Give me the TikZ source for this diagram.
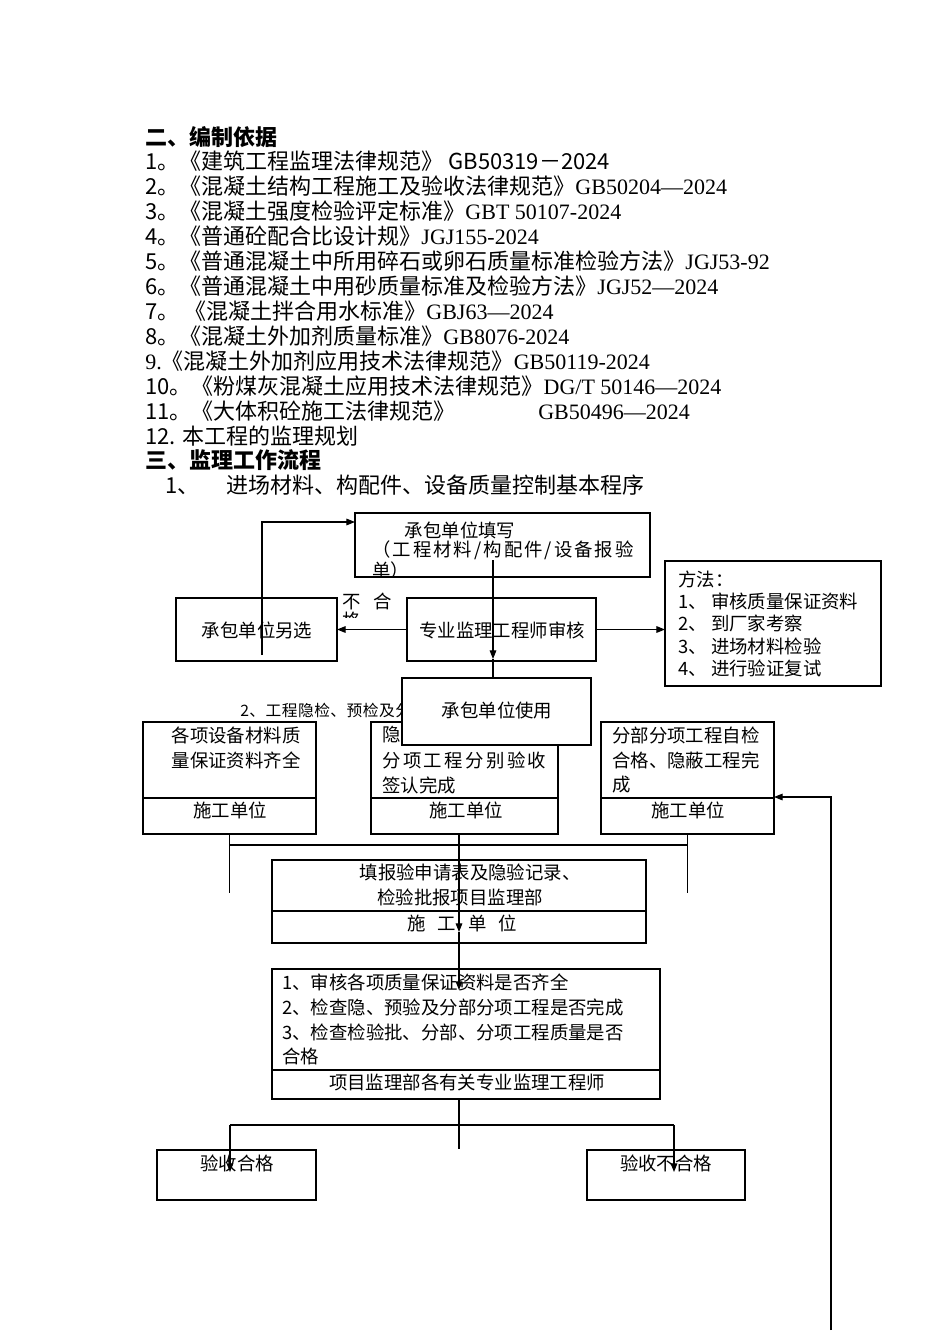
\documentclass[tikz,border=0pt]{standalone}
\usepackage{fontspec}
\setmainfont{Noto Sans CJK SC}
\newfontfamily\tnr{Liberation Serif}
\usepackage{tikz}
\usetikzlibrary{arrows.meta, positioning}
\newcommand{\lst}{\fontsize{16.5pt}{19pt}\selectfont}
\newcommand{\flw}{\fontsize{13.8pt}{16pt}\selectfont}
\newcommand{\sml}{\fontsize{11.8pt}{13pt}\selectfont}

\begin{document}
\begin{tikzpicture}[x=0.75pt, y=-0.75pt,
    box/.style={draw, line width=0.8pt, inner sep=0pt, outer sep=0pt},
    sz/.style 2 args={minimum width=#1*0.75pt, minimum height=#2*0.75pt},
    txt/.style={inner sep=0pt, anchor=west},
    ctr/.style={inner sep=0pt},
    ln/.style={line width=0.8pt},
    arr/.style={-{Triangle[length=6.5pt,width=5pt]}, line width=0.8pt}]
    \fill[white] (0,0) rectangle (950,1344);
    \useasboundingbox (0,0) rectangle (950,1344);
    % Basis
    \node[txt, font=\lst\bfseries] (h1) at (145,137) {二、编制依据};
    \node[txt, font=\lst] (l1) at (145,161) {1。《建筑工程监理法律规范》 GB50319－2024};
    \node[txt, font=\lst] (l2) at (145,186) {2。《混凝土结构工程施工及验收法律规范》{\tnr GB50204—2024}};
    \node[txt, font=\lst] (l3) at (145,211) {3。《混凝土强度检验评定标准》{\tnr GBT 50107-2024}};
    \node[txt, font=\lst] (l4) at (145,236) {4。《普通砼配合比设计规》{\tnr JGJ155-2024}};
    \node[txt, font=\lst] (l5) at (145,261) {5。《普通混凝土中所用碎石或卵石质量标准检验方法》{\tnr JGJ53-92}};
    \node[txt, font=\lst] (l6) at (145,286) {6。《普通混凝土中用砂质量标准及检验方法》{\tnr JGJ52—2024}};
    \node[txt, font=\lst] (l7) at (145,311) {7。 《混凝土拌合用水标准》{\tnr GBJ63—2024}};
    \node[txt, font=\lst] (l8) at (145,336) {8。《混凝土外加剂质量标准》{\tnr GB8076-2024}};
    \node[txt, font=\lst] (l9) at (145,361) {{\tnr 9.}《混凝土外加剂应用技术法律规范》{\tnr GB50119-2024}};
    \node[txt, font=\lst] (l10) at (145,386) {10。《粉煤灰混凝土应用技术法律规范》{\tnr DG/T 50146—2024}};
    \node[txt, font=\lst] (l11) at (145,411) {11。《大体积砼施工法律规范》\hspace{62pt}{\tnr GB50496—2024}};
    \node[txt, font=\lst] (l12) at (145,436) {12. 本工程的监理规划};
    % Workflow
    \node[txt, font=\lst\bfseries] (h2) at (145,460) {三、监理工作流程};
    \node[txt, font=\lst] (h3) at (165,485) {1、\hspace{20pt}进场材料、构配件、设备质量控制基本程序};

    % Fill in the report
    \node[box, sz={295}{64}] (fill) at (502.5,545) {};
    \node[ctr, font=\flw] (fillA) at (460,530) {承包单位填写};
    \node[txt, font=\flw\addfontfeature{LetterSpace=11}] (fillB) at (372,550) {（工程材料/构配件/设备报验};
    \begin{scope}
        \clip (355,513) rectangle (650,577);
        \node[txt, font=\flw] (fillC) at (372,571) {单）};
    \end{scope}
    % Alternative
    \node[box, sz={161}{63}] (alt) at (256.5,629.5) {};
    \node[ctr, font=\flw] (altT) at (257,630) {承包单位另选};
    % Review
    \node[box, sz={189}{63}] (rev) at (501.5,629.5) {};
    \node[ctr, font=\flw] (revT) at (502,630) {专业监理工程师审核};
    % Methods
    \node[box, sz={216}{125}] (meth) at (773,623.5) {};
    \node[txt, font=\flw] (m0) at (678,579) {方法：};
    \node[txt, font=\flw] (m1) at (678,601) {1、 审核质量保证资料};
    \node[txt, font=\flw] (m2) at (678,623) {2、 到厂家考察};
    \node[txt, font=\flw] (m3) at (678,646) {3、 进场材料检验};
    \node[txt, font=\flw] (m4) at (678,668) {4、 进行验证复试};
    % Not passed
    \node[txt, font=\flw] (ng) at (342,601) {不\hspace{10pt}合};
    \begin{scope}
        \clip (330,608) rectangle (380,617);
        \node[txt, font=\flw] (ng2) at (342,621) {格};
    \end{scope}

    % Three checks
    \node[txt, font=\sml\addfontfeature{LetterSpace=3}] (sec2) at (240,710) {2、工程隐检、预检及分};
    \node[box, sz={173}{112}] (chkA) at (229.5,778) {};
    \draw[ln] (143,798) -- (316,798);
    \node[ctr, font=\flw] (chkA1) at (236,735) {各项设备材料质};
    \node[ctr, font=\flw] (chkA2) at (236,760) {量保证资料齐全};
    \node[ctr, font=\flw] (chkA3) at (230,810) {施工单位};
    \node[box, sz={187}{112}] (chkB) at (464.5,778) {};
    \draw[ln] (371,798) -- (558,798);
    \node[txt, font=\flw] (chkB1) at (382,735) {隐};
    \node[txt, font=\flw\addfontfeature{LetterSpace=13}] (chkB2) at (382,760) {分项工程分别验收};
    \node[txt, font=\flw] (chkB3) at (382,785) {签认完成};
    \node[ctr, font=\flw] (chkB4) at (466,810) {施工单位};
    \node[box, sz={173}{112}] (chkC) at (687.5,778) {};
    \draw[ln] (601,798) -- (774,798);
    \node[txt, font=\flw] (chkC1) at (612,735) {分部分项工程自检};
    \node[txt, font=\flw] (chkC2) at (612,760) {合格、隐蔽工程完};
    \node[txt, font=\flw] (chkC3) at (612,785) {成};
    \node[ctr, font=\flw] (chkC4) at (688,810) {施工单位};
    % Use
    \node[box, fill=white, sz={189}{67}] (use) at (496.5,711.5) {};
    \node[ctr, font=\flw] (useT) at (497,710) {承包单位使用};

    % Apply
    \node[box, sz={374}{83}] (app) at (459,901.5) {};
    \draw[ln] (272,911) -- (646,911);
    \node[ctr, font=\flw] (app1) at (470,872) {填报验申请表及隐验记录、};
    \node[ctr, font=\flw] (app2) at (460,897) {检验批报项目监理部};
    \node[ctr, font=\flw] (app3) at (462,923) {施\hspace{9pt}工\hspace{9pt}单\hspace{9pt}位};
    % Inspect
    \node[box, sz={388}{130}] (insp) at (466,1034) {};
    \draw[ln] (272,1070) -- (660,1070);
    \node[txt, font=\flw] (insp1) at (282,982) {1、审核各项质量保证资料是否齐全};
    \node[txt, font=\flw] (insp2) at (282,1007) {2、检查隐、预验及分部分项工程是否完成};
    \node[txt, font=\flw] (insp3) at (282,1032) {3、检查检验批、分部、分项工程质量是否};
    \node[txt, font=\flw] (insp4) at (282,1056) {合格};
    \node[ctr, font=\flw] (insp5) at (467,1082) {项目监理部各有关专业监理工程师};
    % Results
    \node[box, sz={159}{50}] (ok) at (236.5,1175) {};
    \node[ctr, font=\flw] (okT) at (237,1163) {验收合格};
    \node[box, sz={158}{50}] (bad) at (666,1175) {};
    \node[ctr, font=\flw] (badT) at (666,1163) {验收不合格};

    % Connectors
    \coordinate (b1) at (262,655);
    \draw[arr] (b1) |- ([yshift=17.25pt]fill.west);
    \coordinate (a1) at (493,560);
    \coordinate (c1) at (493,659);
    \draw[arr] (a1) -- (c1);
    \draw[ln] (c1) -- (c1 |- use.north);
    \draw[arr] (rev.west) -- (alt.east);
    \draw[arr] (rev.east) -- (meth.west |- rev.east);
    % Collect
    \coordinate (bar) at (0,845);
    \coordinate (fEnd) at (0,893);
    \draw[ln] (chkA.south) -- (chkA.south |- fEnd);
    \draw[ln] (chkC.south) -- (chkC.south |- fEnd);
    \draw[ln] (chkA.south |- bar) -- (chkC.south |- bar);
    \coordinate (g0) at (459,834);
    \coordinate (i1) at (459,932);
    \coordinate (j1) at (459,990);
    \coordinate (jEnd) at (459,1149);
    \draw[arr] (g0) -- (i1);
    \draw[arr] (i1) -- (j1);
    \draw[ln] (g0 |- insp.south) -- (jEnd);
    \coordinate (split) at (0,1125);
    \coordinate (k1) at (230,1172);
    \coordinate (n1) at (674,1172);
    \draw[ln] (k1 |- split) -- (n1 |- split);
    \draw[arr] (k1 |- split) -- (k1);
    \draw[arr] (n1 |- split) -- (n1);
    % Back loop
    \coordinate (r0) at (831,1330);
    \draw[arr] (r0) |- ([yshift=-14.25pt]chkC.east);
\end{tikzpicture}
\end{document}
